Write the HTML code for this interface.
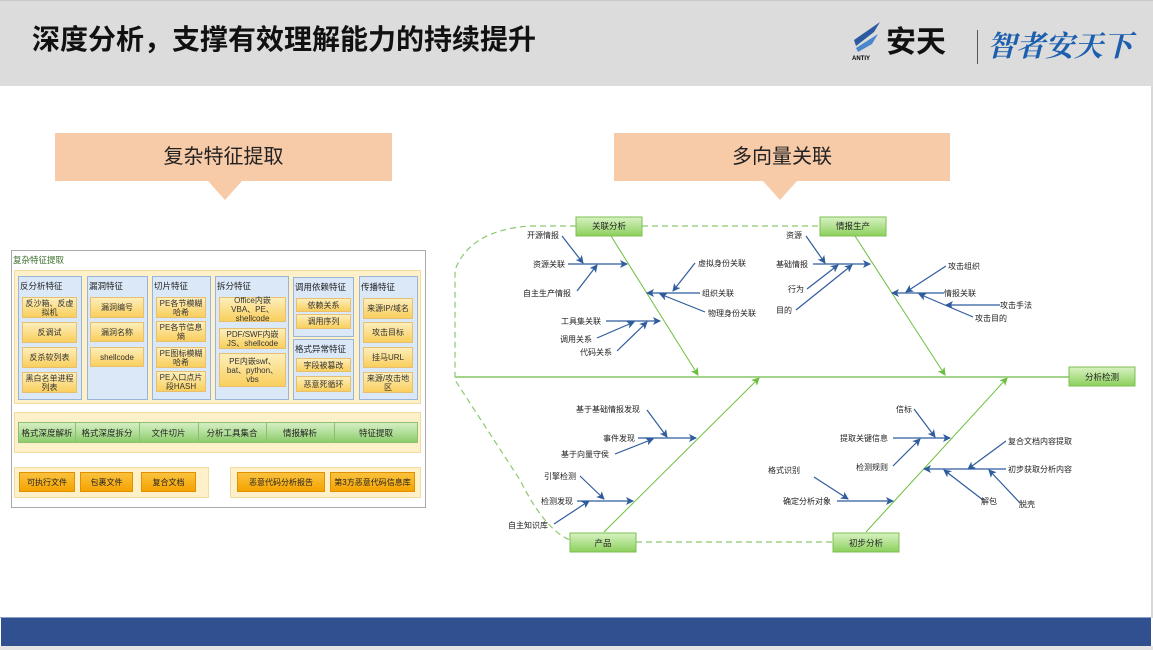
<!DOCTYPE html>
<html><head><meta charset="utf-8">
<style>
body{margin:0;width:1153px;height:650px;overflow:hidden;background:#fff;font-family:"Liberation Sans","Noto Sans CJK SC",sans-serif;position:relative}
.a{position:absolute;box-sizing:border-box}
.hdr{left:0;top:0;width:1153px;height:86px;background:#dcdcdc;border-top:1px solid #c8c8c8}
.ttl{left:32px;top:22px;font-size:28px;font-weight:bold;color:#111;letter-spacing:0px;white-space:nowrap;line-height:36px}
.call{background:#f7caa8;font-size:20px;color:#222;text-align:center;line-height:48px}
.col{background:#dbe8f8;border:1px solid #9ab4d8}
.ch{font-size:8.5px;color:#222;white-space:nowrap}
.it{background:linear-gradient(#fdeebb,#f9cf5d);border:1px solid #e6c070;font-size:8px;color:#333;text-align:center;display:flex;align-items:center;justify-content:center;line-height:9px}
.cream{background:#fef0c8;border:1px solid #f0dca0}
.ob{background:linear-gradient(#fbc23e,#f5a300);border:1px solid #e09000;font-size:8px;color:#222;display:flex;align-items:center;justify-content:center}
.gs{position:absolute;top:0;height:100%;display:flex;align-items:center;justify-content:center;font-size:8.5px;color:#222;border-right:1px solid #8cc070}
</style></head><body>
<div class="a hdr"></div>
<div class="a ttl">深度分析，支撑有效理解能力的持续提升</div>
<div class="a" style="left:852px;top:20px;width:32px;height:36px">
<svg width="32" height="36"><polygon points="2,20 28,2 22,12 4,26" fill="#2c5aa0"/><polygon points="4,28 26,14 20,24 6,32" fill="#4a86cc"/></svg></div>
<div class="a" style="left:852px;top:56px;font-size:6px;font-weight:bold">ANTIY</div>
<div class="a" style="left:886px;top:26px;font-size:30px;font-weight:bold;color:#111;line-height:34px">安天</div>
<div class="a" style="left:977px;top:30px;width:1px;height:34px;background:#555"></div>
<div class="a" style="left:987px;top:28px;font-size:29px;font-weight:bold;font-style:italic;color:#1d5fae;line-height:34px;font-family:'Noto Serif CJK SC',serif">智者安天下</div>

<div class="a call" style="left:55px;top:133px;width:337px;height:48px">复杂特征提取</div>
<svg class="a" style="left:0;top:0" width="1153" height="210"><polygon points="208,181 242,181 225,200" fill="#f7caa8"/><polygon points="763,181 797,181 780,200" fill="#f7caa8"/></svg>
<div class="a call" style="left:614px;top:133px;width:336px;height:48px">多向量关联</div>

<!-- left panel -->
<div class="a" style="left:11px;top:250px;width:415px;height:258px;border:1px solid #aaa"></div>
<div class="a" style="left:13px;top:254px;font-size:8.5px;color:#3a6e2a">复杂特征提取</div>
<div class="a cream" style="left:14px;top:270px;width:407px;height:134px"></div>
<div class="a col" style="left:18px;top:276px;width:64px;height:124px"></div>
<div class="a col" style="left:87px;top:276px;width:61px;height:124px"></div>
<div class="a col" style="left:152px;top:276px;width:59px;height:124px"></div>
<div class="a col" style="left:215px;top:276px;width:74px;height:124px"></div>
<div class="a col" style="left:293px;top:277px;width:61px;height:60px"></div>
<div class="a col" style="left:293px;top:339px;width:61px;height:61px"></div>
<div class="a col" style="left:359px;top:276px;width:59px;height:124px"></div>
<div class="a ch" style="left:20px;top:280px">反分析特征</div>
<div class="a ch" style="left:89px;top:280px">漏洞特征</div>
<div class="a ch" style="left:154px;top:280px">切片特征</div>
<div class="a ch" style="left:217px;top:280px">拆分特征</div>
<div class="a ch" style="left:295px;top:281px">调用依赖特征</div>
<div class="a ch" style="left:295px;top:343px">格式异常特征</div>
<div class="a ch" style="left:361px;top:281px">传播特征</div>

<div class="a it" style="left:22px;top:297px;width:55px;height:21px">反沙箱、反虚<br>拟机</div>
<div class="a it" style="left:22px;top:322px;width:55px;height:21px">反调试</div>
<div class="a it" style="left:22px;top:347px;width:55px;height:21px">反杀软列表</div>
<div class="a it" style="left:22px;top:372px;width:55px;height:21px">黑白名单进程<br>列表</div>

<div class="a it" style="left:90px;top:297px;width:54px;height:21px">漏洞编号</div>
<div class="a it" style="left:90px;top:322px;width:54px;height:20px">漏洞名称</div>
<div class="a it" style="left:90px;top:347px;width:54px;height:20px">shellcode</div>

<div class="a it" style="left:156px;top:297px;width:50px;height:21px">PE各节模糊<br>哈希</div>
<div class="a it" style="left:156px;top:321px;width:50px;height:21px">PE各节信息<br>熵</div>
<div class="a it" style="left:156px;top:347px;width:50px;height:21px">PE图标模糊<br>哈希</div>
<div class="a it" style="left:156px;top:371px;width:50px;height:21px">PE入口点片<br>段HASH</div>

<div class="a it" style="left:219px;top:297px;width:67px;height:25px">Office内嵌<br>VBA、PE、<br>shellcode</div>
<div class="a it" style="left:219px;top:328px;width:67px;height:21px">PDF/SWF内嵌<br>JS、shellcode</div>
<div class="a it" style="left:219px;top:353px;width:67px;height:34px">PE内嵌swf、<br>bat、python、<br>vbs</div>

<div class="a it" style="left:296px;top:298px;width:55px;height:14px">依赖关系</div>
<div class="a it" style="left:296px;top:314px;width:55px;height:15px">调用序列</div>
<div class="a it" style="left:296px;top:358px;width:55px;height:14px">字段被篡改</div>
<div class="a it" style="left:296px;top:376px;width:55px;height:16px">恶意死循环</div>

<div class="a it" style="left:363px;top:298px;width:50px;height:21px">来源IP/域名</div>
<div class="a it" style="left:363px;top:322px;width:50px;height:21px">攻击目标</div>
<div class="a it" style="left:363px;top:347px;width:50px;height:21px">挂马URL</div>
<div class="a it" style="left:363px;top:372px;width:50px;height:21px">来源/攻击地<br>区</div>

<div class="a cream" style="left:14px;top:412px;width:407px;height:41px"></div>
<div class="a" style="left:18px;top:422px;width:400px;height:21px;background:linear-gradient(#d6efc4,#8ccc6c);border:1px solid #8cc070">
<div class="gs" style="left:0;width:56px">格式深度解析</div>
<div class="gs" style="left:56px;width:64px">格式深度拆分</div>
<div class="gs" style="left:120px;width:59px">文件切片</div>
<div class="gs" style="left:179px;width:68px">分析工具集合</div>
<div class="gs" style="left:247px;width:68px">情报解析</div>
<div class="gs" style="left:315px;width:84px;border:none">特征提取</div>
</div>
<div class="a cream" style="left:14px;top:467px;width:195px;height:31px"></div>
<div class="a cream" style="left:230px;top:467px;width:191px;height:31px"></div>
<div class="a ob" style="left:19px;top:472px;width:56px;height:20px">可执行文件</div>
<div class="a ob" style="left:80px;top:472px;width:53px;height:20px">包裹文件</div>
<div class="a ob" style="left:141px;top:472px;width:55px;height:20px">复合文档</div>
<div class="a ob" style="left:237px;top:472px;width:88px;height:20px">恶意代码分析报告</div>
<div class="a ob" style="left:330px;top:472px;width:85px;height:20px">第3方恶意代码信息库</div>

<!-- fishbone -->
<svg class="a" style="left:0;top:0" width="1153" height="650" font-family="Liberation Sans,Noto Sans CJK SC,sans-serif" font-size="8">
<defs>
<marker id="b" markerWidth="8" markerHeight="8" refX="7" refY="4" orient="auto" markerUnits="userSpaceOnUse"><path d="M0,0 L8,4 L0,8 L2,4z" fill="#2f5c9c"/></marker>
<marker id="g" markerWidth="8" markerHeight="8" refX="7" refY="4" orient="auto" markerUnits="userSpaceOnUse"><path d="M0,0 L8,4 L0,8 L2,4z" fill="#6cbf3c"/></marker>
<linearGradient id="gb" x1="0" y1="0" x2="0" y2="1"><stop offset="0" stop-color="#d8f2c4"/><stop offset="1" stop-color="#8cd05c"/></linearGradient>
</defs>
<g fill="none" stroke="#8cc870" stroke-width="1.2" stroke-dasharray="6,4">
<path d="M576,226 L530,226 Q470,230 455,270 L455,380 L520,480 Q545,530 570,540"/>
<path d="M642,226 L820,226"/>
<path d="M636,542 L833,542"/>
</g>
<line x1="455" y1="377" x2="1069" y2="377" stroke="#a4d48c" stroke-width="2"/>
<g stroke="#6cbf3c" stroke-width="1" marker-end="url(#g)">
<line x1="611" y1="236" x2="698" y2="375"/>
<line x1="855" y1="236" x2="945" y2="375"/>
<line x1="604" y1="532" x2="759" y2="378"/>
<line x1="866" y1="532" x2="1007" y2="378"/>
</g>
<g fill="url(#gb)" stroke="#7cbf50">
<rect x="576" y="217" width="66" height="19"/><rect x="820" y="217" width="66" height="19"/>
<rect x="1069" y="367" width="66" height="19"/><rect x="570" y="533" width="66" height="19"/><rect x="833" y="533" width="66" height="19"/>
</g>
<g font-size="8.5" text-anchor="middle" fill="#222">
<text x="609" y="229">关联分析</text><text x="853" y="229">情报生产</text><text x="1102" y="380">分析检测</text><text x="603" y="546">产品</text><text x="866" y="546">初步分析</text>
</g>
<g stroke="#2f5c9c" stroke-width="1.2" marker-end="url(#b)">
<line x1="568" y1="264" x2="627" y2="264"/><line x1="562" y1="236" x2="583" y2="263"/><line x1="577" y1="291" x2="597" y2="265"/>
<line x1="700" y1="293" x2="647" y2="293"/><line x1="695" y1="263" x2="673" y2="291"/><line x1="705" y1="312" x2="660" y2="294"/>
<line x1="606" y1="321" x2="660" y2="321"/><line x1="597" y1="338" x2="634" y2="322"/><line x1="617" y1="351" x2="647" y2="322"/>
<line x1="813" y1="264" x2="870" y2="264"/><line x1="806" y1="236" x2="825" y2="263"/><line x1="807" y1="289" x2="838" y2="265"/><line x1="796" y1="310" x2="852" y2="265"/>
<line x1="944" y1="293" x2="892" y2="293"/><line x1="946" y1="266" x2="906" y2="292"/><line x1="1000" y1="305" x2="946" y2="305"/><line x1="973" y1="317" x2="919" y2="294"/>
<line x1="638" y1="438" x2="696" y2="438"/><line x1="647" y1="410" x2="667" y2="437"/><line x1="615" y1="454" x2="653" y2="439"/>
<line x1="577" y1="501" x2="633" y2="501"/><line x1="580" y1="476" x2="604" y2="499"/><line x1="554" y1="524" x2="589" y2="501"/>
<line x1="893" y1="438" x2="950" y2="438"/><line x1="914" y1="409" x2="935" y2="437"/><line x1="893" y1="466" x2="920" y2="439"/>
<line x1="1006" y1="469" x2="924" y2="469"/><line x1="1006" y1="441" x2="968" y2="469"/><line x1="983" y1="500" x2="944" y2="470"/><line x1="1020" y1="503" x2="989" y2="470"/>
<line x1="837" y1="501" x2="893" y2="501"/><line x1="814" y1="477" x2="848" y2="499"/>
</g>
<g fill="#222">
<text x="527" y="238">开源情报</text><text x="533" y="267">资源关联</text><text x="523" y="296">自主生产情报</text>
<text x="698" y="266">虚拟身份关联</text><text x="702" y="296">组织关联</text><text x="708" y="316">物理身份关联</text>
<text x="561" y="324">工具集关联</text><text x="560" y="342">调用关系</text><text x="580" y="355">代码关系</text>
<text x="786" y="238">资源</text><text x="776" y="267">基础情报</text><text x="788" y="292">行为</text><text x="776" y="313">目的</text>
<text x="948" y="269">攻击组织</text><text x="944" y="296">情报关联</text><text x="1000" y="308">攻击手法</text><text x="975" y="321">攻击目的</text>
<text x="576" y="412">基于基础情报发现</text><text x="603" y="441">事件发现</text><text x="561" y="457">基于向量守侯</text>
<text x="544" y="479">引擎检测</text><text x="541" y="504">检测发现</text><text x="508" y="528">自主知识库</text>
<text x="896" y="412">信标</text><text x="840" y="441">提取关键信息</text><text x="856" y="470">检测规则</text>
<text x="1008" y="444">复合文档内容提取</text><text x="1008" y="472">初步获取分析内容</text><text x="981" y="504">解包</text><text x="1019" y="507">脱壳</text>
<text x="768" y="473">格式识别</text><text x="783" y="504">确定分析对象</text>
</g>
</svg>

<div class="a" style="left:0;top:617px;width:1153px;height:1px;background:#8aa0c8"></div>
<div class="a" style="left:1px;top:618px;width:1150px;height:28px;background:#31508f"></div>
<div class="a" style="left:0;top:646px;width:1153px;height:4px;background:#e4e4e4"></div>
<div class="a" style="left:1151px;top:86px;width:2px;height:532px;background:#d8d8d8"></div>
</body></html>
